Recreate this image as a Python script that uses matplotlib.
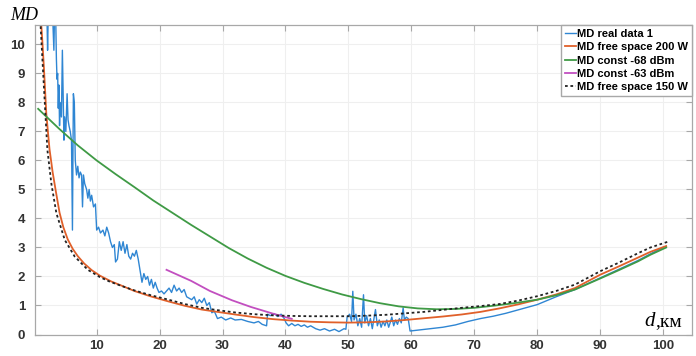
import matplotlib.pyplot as plt

# measured data (d in km, MD)
d_real = [1.9, 2.1, 2.2, 2.3, 2.6, 3.0, 3.2, 3.3, 3.5, 3.6, 3.7, 3.8, 3.9, 4.0, 4.1, 4.2,
          4.4, 4.55, 4.65, 4.8, 4.9, 5.1, 5.3, 5.45, 5.6, 5.8, 6.0, 6.15, 6.3, 6.45, 6.6,
          6.8, 7.0, 7.2, 7.4, 7.6, 7.75, 7.9, 8.1, 8.4, 8.6, 8.8, 9.0, 9.2, 9.5, 9.8, 10.0,
          10.3, 10.6, 11.0, 11.3, 11.6, 11.9, 12.2, 12.5, 12.8, 13.0, 13.3, 13.6, 13.9,
          14.2, 14.5, 14.8, 15.1, 15.4, 15.7, 16.0, 16.3, 16.6, 16.9, 17.2, 17.5, 17.8,
          18.1, 18.4, 18.7, 19.0, 19.3, 19.6, 19.9, 20.3, 20.7, 21.1, 21.5, 21.9, 22.3,
          22.7, 23.1, 23.5, 23.9, 24.3, 24.7, 25.1, 25.5, 25.9, 26.3, 26.7, 27.1, 27.5,
          27.9, 28.3, 28.7, 29.2, 29.8, 30.5, 31.3, 32.0, 33.0, 34.0, 35.0, 35.7, 36.3,
          37.0, 37.15, 37.6, 38.2, 38.8, 39.3, 39.8, 40.1, 40.5, 41.0, 41.5, 42.0, 42.5,
          43.0, 43.5, 44.0, 44.8, 45.5, 46.2, 47.0, 47.8, 48.5, 49.3, 49.6, 49.8, 50.2,
          50.5, 50.7, 50.9, 51.2, 51.5, 51.8, 52.1, 52.4, 52.6, 52.9, 53.2, 53.5, 53.8,
          54.1, 54.3, 54.6, 54.9, 55.2, 55.5, 55.8, 56.1, 56.4, 56.7, 56.9, 57.2, 57.5,
          57.8, 58.1, 58.4, 58.7, 58.9, 59.2, 59.5, 59.8, 61, 63, 65, 67, 69, 71, 73, 75,
          77, 80, 83, 86, 88, 90, 92, 94, 96, 98, 100]
md_real = [11.5, 11.0, 9.8, 11.0, 11.2, 11.0, 9.8, 11.0, 10.8, 9.5, 8.8, 9.0, 7.8, 8.6,
           7.2, 8.0, 7.5, 9.8, 8.5, 6.7, 7.5, 7.0, 8.3, 7.4, 7.2, 7.0, 6.7, 3.6, 8.3, 8.0,
           6.0, 5.5, 5.8, 5.4, 5.6, 5.5, 4.4, 5.5, 5.2, 5.0, 4.7, 5.0, 4.6, 4.8, 4.4, 4.5,
           3.6, 3.7, 3.5, 3.6, 3.4, 3.7, 3.5, 3.2, 3.0, 3.1, 2.5, 2.6, 3.2, 2.9, 3.2, 2.8,
           3.1, 2.7, 2.6, 2.8, 2.7, 2.9, 2.6, 2.2, 1.8, 2.1, 1.9, 2.0, 1.7, 1.9, 1.6, 1.8,
           1.6, 1.45, 1.5, 1.4, 1.5, 1.6, 1.45, 1.7, 1.5, 1.6, 1.45, 1.55, 1.3, 1.25, 1.2,
           1.3, 1.05, 1.2, 1.1, 1.25, 1.0, 1.1, 0.75, 0.8, 0.55, 0.6, 0.5, 0.57, 0.5, 0.52,
           0.45, 0.4, 0.45, 0.35, 0.3, 0.7, 0.65, 0.72, 0.62, 0.7, 0.55, 0.4, 0.3, 0.38,
           0.3, 0.35, 0.28, 0.33, 0.25, 0.3, 0.2, 0.15, 0.2, 0.12, 0.18, 0.1, 0.2, 0.18,
           0.6, 0.7, 0.45, 1.49, 0.5, 0.7, 0.3, 0.55, 0.25, 1.37, 0.4, 0.65, 0.3, 0.55,
           0.2, 0.6, 0.86, 0.3, 0.5, 0.25, 0.45, 0.3, 0.5, 0.25, 0.45, 0.6, 0.3, 0.5, 0.35,
           0.55, 0.4, 0.92, 0.5, 0.6, 0.55, 0.12, 0.15, 0.2, 0.25, 0.33, 0.45, 0.55, 0.63,
           0.73, 0.85, 1.03, 1.3, 1.55, 1.75, 1.95, 2.15, 2.35, 2.55, 2.78, 3.0]

d_fs200 = [1.1, 1.4, 1.64, 2.0, 2.5, 3.0, 3.5, 4.1, 4.7, 5.4, 6.2, 7.0, 8.0, 9.2, 10.5,
           12.3, 14, 16, 18.5, 21.4, 24, 26.7, 29.5, 32, 35, 38, 41, 44, 47, 50, 53, 56,
           59, 62, 65, 68, 71, 74, 77, 80, 83, 86, 90, 93, 96, 98, 100.5]
md_fs200 = [11.0, 10.0, 9.1, 7.6, 6.4, 5.6, 4.95, 4.2, 3.7, 3.28, 2.95, 2.7, 2.45, 2.22,
            2.03, 1.83, 1.68, 1.5, 1.32, 1.14, 0.99, 0.86, 0.77, 0.69, 0.6, 0.53, 0.48,
            0.44, 0.42, 0.41, 0.42, 0.45, 0.5, 0.56, 0.62, 0.69, 0.78, 0.9, 1.04, 1.2,
            1.38, 1.6, 2.06, 2.35, 2.65, 2.85, 3.05]

d_c68 = [0.7, 4, 7, 10, 13, 16, 19, 22, 25, 28, 31, 34, 37, 40, 43, 46, 49, 52, 55, 58,
         61, 64, 67, 70, 73, 76, 80, 83, 86, 90, 93, 96, 98, 100.5]
md_c68 = [7.78, 7.1, 6.52, 6.0, 5.53, 5.08, 4.62, 4.2, 3.78, 3.38, 2.98, 2.62, 2.3, 2.02,
          1.78, 1.57, 1.38, 1.22, 1.08, 0.97, 0.9, 0.87, 0.88, 0.92, 0.99, 1.07, 1.2,
          1.35, 1.55, 1.93, 2.22, 2.52, 2.75, 3.0]

d_c63 = [21.1, 25, 28, 31.5, 34.5, 38, 41]
md_c63 = [2.23, 1.85, 1.5, 1.18, 0.95, 0.72, 0.54]

d_fs150 = [1.0, 1.3, 1.6, 2.17, 2.8, 3.6, 4.93, 6.5, 8.6, 10.5, 12, 14, 16, 18.5, 21.4,
           24, 26.7, 29.5, 32, 35, 38, 41, 44, 47, 50, 53, 56, 59, 62, 65, 68, 71, 74, 77,
           80, 83, 86, 90, 93, 96, 98, 100.8]
md_fs150 = [11.0, 9.8, 8.6, 6.36, 5.2, 4.18, 3.26, 2.69, 2.23, 1.98, 1.83, 1.67, 1.52,
            1.36, 1.2, 1.05, 0.92, 0.83, 0.76, 0.7, 0.66, 0.64, 0.63, 0.63, 0.63, 0.65,
            0.68, 0.73, 0.78, 0.85, 0.92, 0.98, 1.05, 1.17, 1.32, 1.5, 1.72, 2.18, 2.48,
            2.8, 3.0, 3.2]

x_ticks = [10, 20, 30, 40, 50, 60, 70, 80, 90, 100]
y_ticks = [0, 1, 2, 3, 4, 5, 6, 7, 8, 9, 10]

fig = plt.figure(figsize=(6.96, 3.56), dpi=100)
ax = fig.add_axes([35 / 696, 1 - 334.5 / 356, 657 / 696, 309.5 / 356])

ax.plot(d_real, md_real, color='#2f86d3', lw=1.0, label='MD real data 1')
ax.plot(d_fs200, md_fs200, color='#e0602a', lw=1.3, label='MD free space 200 W')
ax.plot(d_c68, md_c68, color='#3f9a45', lw=1.3, label='MD const -68 dBm')
ax.plot(d_c63, md_c63, color='#c24fc0', lw=1.3, label='MD const -63 dBm')
ax.plot(d_fs150, md_fs150, color='#222222', lw=1.3, linestyle=(0, (1.5, 1.5)),
        label='MD free space 150 W')

ax.set_xlim(0.2, 104.6)
ax.set_ylim(0, 10.67)
ax.set_xticks(x_ticks)
ax.set_yticks(y_ticks)
ax.grid(True, color='#efefef', lw=0.8)
ax.set_axisbelow(True)
for s in ax.spines.values():
    s.set_color('#a8a8a8')
    s.set_linewidth(0.9)
ax.tick_params(direction='in', top=True, right=True, length=4, color='#a8a8a8',
               labelcolor='#333333', labelsize=9.5)
ax.tick_params(axis='y', pad=7)
ax.tick_params(axis='x', pad=4)
for lbl in ax.get_xticklabels() + ax.get_yticklabels():
    lbl.set_fontweight('bold')
    lbl.set_family('Liberation Sans')

leg = ax.legend(loc='upper right', borderaxespad=0, handlelength=1.0,
                handletextpad=0.1, labelspacing=0.3, borderpad=0.35, fancybox=False,
                framealpha=1, edgecolor='#a8a8a8',
                prop={'family': 'Liberation Sans', 'weight': 'bold', 'size': 8})

fig.text(10 / 696, 1 - 16 / 356, 'MD', family='Liberation Serif', style='italic',
         fontsize=13, va='center', ha='left')
fig.text(644 / 696, 1 - 322 / 356, 'd', family='Liberation Serif', style='italic',
         fontsize=15, va='center', ha='left')
fig.text(655 / 696, 1 - 322 / 356, ',км', family='Liberation Serif',
         fontsize=14, va='center', ha='left')

fig.savefig('out.png', dpi=100)
